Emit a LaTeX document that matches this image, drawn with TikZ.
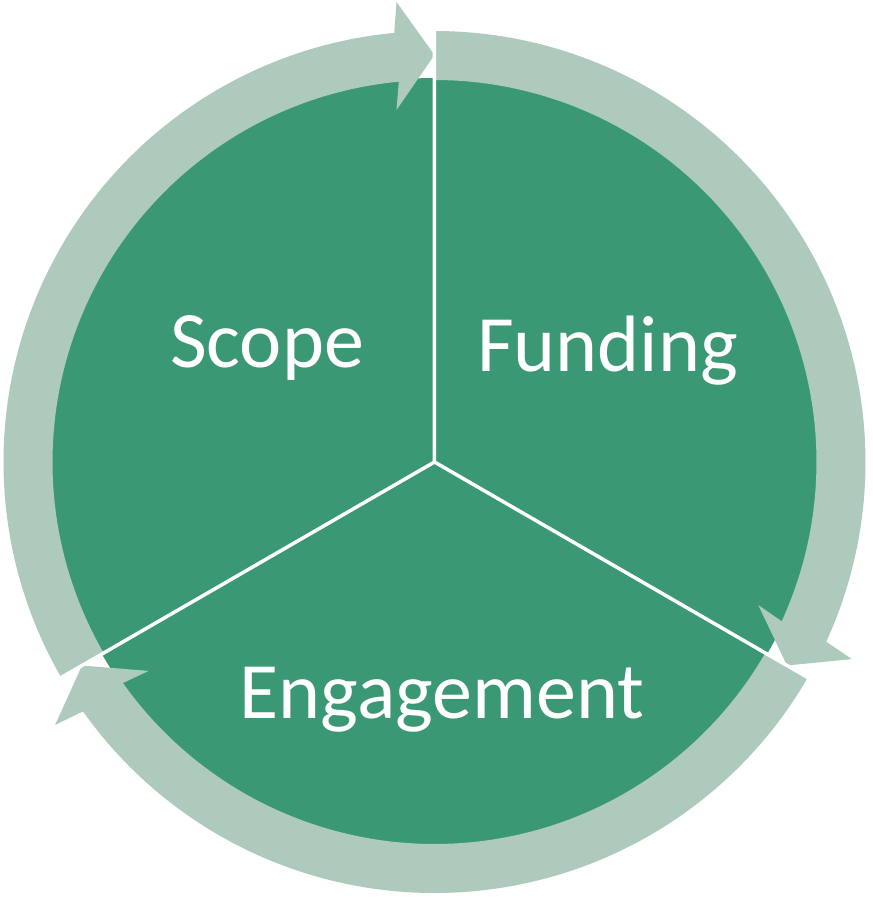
\documentclass[tikz,border=0pt]{standalone}
\usepackage{fontspec}
\setmainfont{Carlito}
\usetikzlibrary{calc}
\definecolor{sectorgreen}{RGB}{59,152,116}
\definecolor{ringgreen}{RGB}{174,202,189}
\tikzset{
  sector/.style={fill=sectorgreen, draw=none},
  ringarrow/.style={fill=ringgreen, draw=none},
  divider/.style={draw=white, line width=3.5pt},
  label/.style={text=white, font=\fontsize{80}{86}\selectfont, anchor=base, inner sep=0pt}
}
\begin{document}
\begin{tikzpicture}
\useasboundingbox (-434.5pt,462pt) rectangle (438.5pt,-436pt);
\coordinate (c) at (0,0);
\fill[sector] (c) circle[radius=384pt];
\foreach \s/\e in {90/-30, -30/-150, 210/90}{
  \pgfmathsetmacro{\b}{\e+5.36}
  \fill[ringarrow] (\s:431pt) arc[start angle=\s, end angle=\b, radius=431pt]
    -- ($(\e:407pt)+(\e+90:38pt)+(\e:53pt)$)
    -- (\e:407pt)
    -- ($(\e:407pt)+(\e+90:38pt)+(\e:-55pt)$)
    -- (\b:382pt) arc[start angle=\b, end angle=\s, radius=382pt] -- cycle;
}
\coordinate (d1) at (90:432pt);
\coordinate (d2) at (-30:432pt);
\coordinate (d3) at (210:432pt);
\draw[divider] (d1) -- (c) -- (d2);
\draw[divider] (c) -- (d3);
\node[label] (scope) at (-167.5pt,95pt) {Scope};
\node[label] (funding) at (173pt,91pt) {Funding};
\node[label] (engagement) at (7.5pt,-256pt) {Engagement};
\end{tikzpicture}
\end{document}
